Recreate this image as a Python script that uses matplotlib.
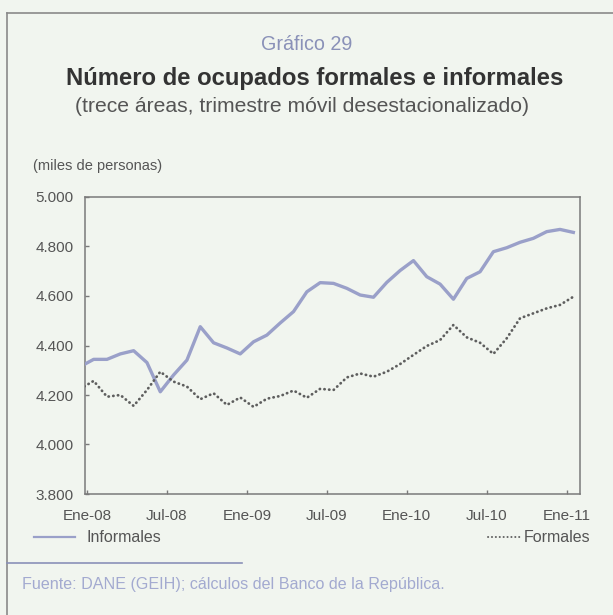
import matplotlib
matplotlib.use("Agg")
import matplotlib.pyplot as plt
from matplotlib.lines import Line2D
import numpy as np

# Monthly series, thousands of people (Dic-07 .. Ene-11)
meses = ["Dic-07",
         "Ene-08", "Feb-08", "Mar-08", "Abr-08", "May-08", "Jun-08",
         "Jul-08", "Ago-08", "Sep-08", "Oct-08", "Nov-08", "Dic-08",
         "Ene-09", "Feb-09", "Mar-09", "Abr-09", "May-09", "Jun-09",
         "Jul-09", "Ago-09", "Sep-09", "Oct-09", "Nov-09", "Dic-09",
         "Ene-10", "Feb-10", "Mar-10", "Abr-10", "May-10", "Jun-10",
         "Jul-10", "Ago-10", "Sep-10", "Oct-10", "Nov-10", "Dic-10",
         "Ene-11"]

informales = [4315,
              4344, 4344, 4366, 4379, 4331, 4213,
              4281, 4341, 4476, 4411, 4390, 4366,
              4415, 4442, 4491, 4537, 4617, 4654,
              4651, 4631, 4604, 4595, 4655, 4703,
              4743, 4678, 4648, 4587, 4671, 4698,
              4779, 4795, 4817, 4833, 4860, 4869,
              4857]

formales = [4225,
            4257, 4193, 4200, 4156, 4220, 4294,
            4254, 4234, 4183, 4207, 4160, 4190,
            4152, 4185, 4196, 4218, 4189, 4225,
            4220, 4271, 4287, 4274, 4294, 4325,
            4362, 4398, 4422, 4483, 4433, 4411,
            4366, 4429, 4510, 4530, 4550, 4564,
            4597]

tick_labels = ["Ene-08", "Jul-08", "Ene-09", "Jul-09", "Ene-10", "Jul-10", "Ene-11"]
y_ticks = [3800, 4000, 4200, 4400, 4600, 4800, 5000]

BG = "#f1f5ef"
C_INF = "#9aa0c9"
C_FOR = "#5e5e5e"
C_TXT = "#555555"
C_BLUE = "#8a91b8"
C_SRC = "#a3aad0"
COND = ["Liberation Sans Narrow", "Liberation Sans", "DejaVu Sans"]
REG = ["Liberation Sans", "DejaVu Sans"]

W, H = 613, 615
fig = plt.figure(figsize=(W / 100, H / 100), dpi=100, facecolor=BG)


def fx(px):
    return px / W


def fy(py):
    return 1 - py / H


ax = fig.add_axes([fx(85), fy(494), fx(580) - fx(85), fy(197) - fy(494)])
ax.set_facecolor(BG)

# each month plotted at the centre of its slot; slot 0 starts at Ene-08
pos = np.arange(len(meses)) - 0.5
ax.plot(pos, informales, color=C_INF, lw=2.4, solid_joinstyle="round", zorder=3)
ax.plot(pos, formales, color=C_FOR, lw=2.0, linestyle=(0, (0.1, 1.6)),
        dash_capstyle="round", zorder=3)

ax.set_xlim(-0.15, 37)
ax.set_ylim(3800, 5000)
ax.set_xticks(np.arange(0, 37, 6))
ax.set_xticklabels(tick_labels)
ax.set_yticks(y_ticks)
ax.set_yticklabels([f"{v:,}".replace(",", ".") for v in y_ticks])

for s in ax.spines.values():
    s.set_color("#7a7a7a")
    s.set_linewidth(1.1)

ax.tick_params(direction="in", length=3, width=1, color="#7a7a7a",
               labelcolor=C_TXT, labelsize=11)
ax.tick_params(axis="y", pad=8)
ax.tick_params(axis="x", pad=11)
for lab in ax.get_xticklabels() + ax.get_yticklabels():
    lab.set_family(COND)

# outer frame
fig.add_artist(Line2D([fx(7), 1.0], [fy(13), fy(13)], color="#8a8a8a", lw=1.2))
fig.add_artist(Line2D([fx(7), fx(7)], [fy(13), 0.0], color="#8a8a8a", lw=1.2))

# headings
fig.text(fx(307), fy(45), "Gráfico 29", ha="center", va="center",
         fontsize=14.2, color=C_BLUE, family=REG)
fig.text(fx(315), fy(78), "Número de ocupados formales e informales",
         ha="center", va="center", fontsize=17.2, fontweight="bold",
         color="#333333", family=REG)
fig.text(fx(302), fy(107), "(trece áreas, trimestre móvil desestacionalizado)",
         ha="center", va="center", fontsize=15.2, color=C_TXT, family=COND)
fig.text(fx(33), fy(166), "(miles de personas)", ha="left", va="center",
         fontsize=10.5, color=C_TXT, family=COND)

# legend
fig.add_artist(Line2D([fx(34), fx(75)], [fy(537), fy(537)], color=C_INF, lw=1.6))
fig.text(fx(86), fy(537), "Informales", ha="left", va="center",
         fontsize=11.5, color=C_TXT, family=COND)
fig.add_artist(Line2D([fx(488), fx(520)], [fy(537), fy(537)], color=C_FOR,
                      lw=1.4, linestyle=(0, (0.1, 1.9)), dash_capstyle="round"))
fig.text(fx(590), fy(537), "Formales", ha="right", va="center",
         fontsize=11.5, color=C_TXT, family=COND)

# source note
fig.add_artist(Line2D([fx(7), fx(242)], [fy(563), fy(563)], color=C_BLUE, lw=1.2))
fig.text(fx(22), fy(584), "Fuente: DANE (GEIH); cálculos del Banco de la República.",
         ha="left", va="center", fontsize=11.6, color=C_SRC, family=COND)

fig.savefig("out.png", dpi=100, facecolor=BG)
